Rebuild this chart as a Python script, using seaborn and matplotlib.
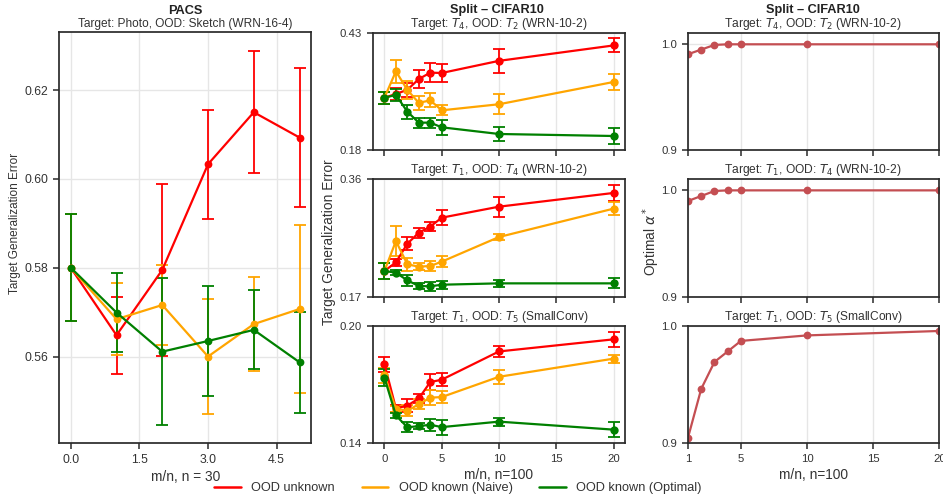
import numpy as np
import pandas as pd
import matplotlib
matplotlib.use("Agg")
import matplotlib.pyplot as plt
import seaborn as sns

# ---------------- data ----------------
methods = ["OOD unknown", "OOD known (Naive)", "OOD known (Optimal)"]
method_colors = ["red", "orange", "green"]

pacs_x = [0, 1, 2, 3, 4, 5]
pacs_unknown = [0.580, 0.5648, 0.5795, 0.6033, 0.6150, 0.6093]
pacs_unknown_err = [0.012, 0.0087, 0.0193, 0.0123, 0.0137, 0.0156]
pacs_naive = [0.580, 0.5684, 0.5716, 0.5600, 0.5673, 0.5707]
pacs_naive_err = [0.012, 0.0081, 0.0091, 0.0130, 0.0106, 0.0189]
pacs_opt = [0.580, 0.5699, 0.5611, 0.5635, 0.5660, 0.5587]
pacs_opt_err = [0.012, 0.0089, 0.0165, 0.0123, 0.0089, 0.0114]

cifar_x = [0, 1, 2, 3, 4, 5, 10, 20]
# Target T4, OOD T2 (WRN-10-2)
a_unknown = [0.292, 0.300, 0.309, 0.332, 0.3457, 0.345, 0.371, 0.404]
a_unknown_err = [0.013, 0.012, 0.015, 0.019, 0.020, 0.019, 0.026, 0.015]
a_naive = [0.292, 0.3486, 0.3086, 0.281, 0.2864, 0.265, 0.278, 0.3257]
a_naive_err = [0.013, 0.024, 0.020, 0.015, 0.015, 0.011, 0.021, 0.017]
a_opt = [0.292, 0.298, 0.262, 0.2386, 0.2386, 0.2286, 0.2143, 0.210]
a_opt_err = [0.013, 0.013, 0.015, 0.011, 0.011, 0.016, 0.016, 0.018]
# Target T1, OOD T4 (WRN-10-2)
b_unknown = [0.2116, 0.2256, 0.2558, 0.2736, 0.2834, 0.2979, 0.3157, 0.3379]
b_unknown_err = [0.0135, 0.006, 0.011, 0.008, 0.0076, 0.012, 0.016, 0.013]
b_naive = [0.2116, 0.2601, 0.2224, 0.2186, 0.2197, 0.2267, 0.2666, 0.3125]
b_naive_err = [0.0135, 0.024, 0.011, 0.0054, 0.008, 0.009, 0.0054, 0.011]
b_opt = [0.2116, 0.2089, 0.1964, 0.1873, 0.1868, 0.1894, 0.1916, 0.1916]
b_opt_err = [0.0135, 0.004, 0.0086, 0.0043, 0.007, 0.0065, 0.0054, 0.008]
# Target T1, OOD T5 (SmallConv)
c_unknown = [0.1803, 0.1576, 0.159, 0.1627, 0.1711, 0.1723, 0.1868, 0.193]
c_unknown_err = [0.0038, 0.0017, 0.0032, 0.0022, 0.004, 0.0034, 0.0026, 0.004]
c_naive = [0.1745, 0.1574, 0.1564, 0.1597, 0.1631, 0.1634, 0.1738, 0.1831]
c_naive_err = [0.004, 0.0015, 0.0028, 0.0026, 0.004, 0.003, 0.0036, 0.002]
c_opt = [0.1733, 0.154, 0.1479, 0.1485, 0.1492, 0.148, 0.1508, 0.1467]
c_opt_err = [0.0043, 0.0014, 0.0026, 0.0017, 0.003, 0.0038, 0.002, 0.004]

alpha_x = [1, 2, 3, 4, 5, 10, 20]
alpha_a = [0.9906, 0.995, 0.9994, 1.0, 1.0, 1.0, 1.0]
alpha_b = [0.990, 0.9947, 0.9994, 1.0, 1.0, 1.0, 1.0]
alpha_c = [0.9043, 0.946, 0.969, 0.978, 0.987, 0.9917, 0.9955]

cifar_titles = [r"Target: $T_4$, OOD: $T_2$ (WRN-10-2)",
                r"Target: $T_1$, OOD: $T_4$ (WRN-10-2)",
                r"Target: $T_1$, OOD: $T_5$ (SmallConv)"]
cifar_ylims = [(0.18, 0.43), (0.17, 0.36), (0.14, 0.20)]
alpha_ylims = [(0.9, 1.0104), (0.9, 1.0104), (0.9, 1.0)]

# ---------------- style ----------------
sns.set_theme(style="ticks")
plt.rcParams["font.family"] = ["Liberation Sans", "DejaVu Sans"]
plt.rcParams.update({
    "axes.edgecolor": "#2a2a2a",
    "axes.linewidth": 1.25,
    "axes.grid": True,
    "grid.color": "#e6e6e6",
    "grid.linewidth": 1.0,
    "xtick.major.size": 4.5,
    "ytick.major.size": 4.5,
    "xtick.major.width": 1.1,
    "ytick.major.width": 1.1,
    "xtick.color": "#2a2a2a",
    "ytick.color": "#2a2a2a",
    "xtick.labelcolor": "#333333",
    "ytick.labelcolor": "#333333",
    "xtick.labelsize": 8.2,
    "ytick.labelsize": 8.2,
    "axes.labelsize": 9.9,
    "axes.labelcolor": "#333333",
    "mathtext.fontset": "dejavusans",
})

W, H = 943, 498
fig = plt.figure(figsize=(W / 100, H / 100), dpi=100)
TXT = "#333333"


def rect(l, t, r, b):
    return [l / W, 1 - b / H, (r - l) / W, (b - t) / H]


def ftext(x, y, s, **kw):
    fig.text(x / W, 1 - y / H, s, **kw)


def series_frame(x, ys, errs):
    rows = []
    for m, y, e in zip(methods, ys, errs):
        for xi, yi, ei in zip(x, y, e):
            rows.append({"x": xi, "y": yi, "err": ei, "method": m})
    return pd.DataFrame(rows)


def draw_methods(ax, df, ms):
    for m, c in zip(methods, method_colors):
        d = df[df["method"] == m]
        ax.errorbar(d["x"], d["y"], yerr=d["err"], fmt="none", ecolor=c,
                    elinewidth=1.3, capsize=4.5, capthick=1.3, zorder=2)
        sns.lineplot(data=d, x="x", y="y", color=c, marker="o", markersize=ms,
                     markeredgewidth=0, linewidth=1.6, errorbar=None, ax=ax,
                     legend=False, zorder=3)


# ---------------- PACS ----------------
ax_p = fig.add_axes(rect(59.3, 32.3, 311, 442.7))
df_p = series_frame(pacs_x, [pacs_unknown, pacs_naive, pacs_opt],
                    [pacs_unknown_err, pacs_naive_err, pacs_opt_err])
draw_methods(ax_p, df_p, 5.6)
ax_p.set_xlim(-0.25, 5.25)
ax_p.set_ylim(0.5406, 0.633)
ax_p.set_xticks([0.0, 1.5, 3.0, 4.5])
ax_p.set_xticklabels(["0.0", "1.5", "3.0", "4.5"])
ax_p.set_yticks([0.56, 0.58, 0.60, 0.62])
ax_p.set_yticklabels(["0.56", "0.58", "0.60", "0.62"])
ax_p.tick_params(labelsize=8.8)
ax_p.set_xlabel("m/n, n = 30", labelpad=3)
ax_p.set_ylabel("")
ftext(15.5, 223, "Target Generalization Error", rotation=90, ha="center",
      va="center", fontsize=8.5, color=TXT)
ftext(185, 14, "PACS", ha="center", va="baseline", fontsize=9.2,
      fontweight="bold", color="#222222")
ftext(185, 27, "Target: Photo, OOD: Sketch (WRN-16-4)", ha="center",
      va="baseline", fontsize=8.6, color=TXT)

# ---------------- CIFAR error panels ----------------
rows = [(33.3, 150), (179.3, 296.7), (325.7, 442.7)]
sub_baselines = [27, 173, 320]
cifar_sets = [
    ([a_unknown, a_naive, a_opt], [a_unknown_err, a_naive_err, a_opt_err]),
    ([b_unknown, b_naive, b_opt], [b_unknown_err, b_naive_err, b_opt_err]),
    ([c_unknown, c_naive, c_opt], [c_unknown_err, c_naive_err, c_opt_err]),
]
for i, ((t, b), (ys, es)) in enumerate(zip(rows, cifar_sets)):
    ax = fig.add_axes(rect(373, t, 625, b))
    draw_methods(ax, series_frame(cifar_x, ys, es), 6.0)
    ax.set_xlim(-1.0, 21.0)
    ax.set_xticks([0, 5, 10, 15, 20])
    lo, hi = cifar_ylims[i]
    ax.set_ylim(lo, hi)
    ax.set_yticks([lo, hi])
    ax.set_yticklabels([f"{lo:.2f}", f"{hi:.2f}"])
    ax.set_xlabel("")
    ax.set_ylabel("")
    if i < 2:
        ax.set_xticklabels([])
    else:
        ax.set_xticklabels(["0", "5", "10", "15", "20"])
        ax.set_xlabel("m/n, n=100", labelpad=3)
    ftext(499, sub_baselines[i], cifar_titles[i], ha="center", va="baseline",
          fontsize=8.65, color=TXT)
ftext(329, 242, "Target Generalization Error", rotation=90, ha="center",
      va="center", fontsize=9.9, color=TXT)
ftext(497, 12.5, "Split \u2013 CIFAR10", ha="center", va="baseline",
      fontsize=9.2, fontweight="bold", color="#222222")

# ---------------- optimal alpha panels ----------------
alpha_sets = [alpha_a, alpha_b, alpha_c]
for i, ((t, b), vals) in enumerate(zip(rows, alpha_sets)):
    ax = fig.add_axes(rect(688, t, 939.3, b))
    df_a = pd.DataFrame({"x": alpha_x, "alpha": vals})
    sns.lineplot(data=df_a, x="x", y="alpha", color="#C44E52", marker="o",
                 markersize=5.6, markeredgewidth=0, linewidth=1.6,
                 errorbar=None, ax=ax)
    ax.set_xlim(1, 20)
    ax.set_xticks([1, 5, 10, 15, 20])
    ax.set_ylim(*alpha_ylims[i])
    ax.set_yticks([0.9, 1.0])
    ax.set_yticklabels(["0.9", "1.0"])
    ax.set_xlabel("")
    ax.set_ylabel("")
    if i < 2:
        ax.set_xticklabels([])
    else:
        ax.set_xticklabels(["1", "5", "10", "15", "20"])
        ax.set_xlabel("m/n, n=100", labelpad=3)
    ftext(813, sub_baselines[i], cifar_titles[i], ha="center", va="baseline",
          fontsize=8.65, color=TXT)
ftext(651, 241, r"Optimal $\alpha^*$", rotation=90, ha="center", va="center",
      fontsize=9.9, color=TXT)
ftext(813, 12.5, "Split \u2013 CIFAR10", ha="center", va="baseline",
      fontsize=9.2, fontweight="bold", color="#222222")

# ---------------- legend ----------------
handles = [plt.Line2D([], [], color=c, linewidth=1.8) for c in method_colors]
fig.legend(handles, methods, loc="center", bbox_to_anchor=(458 / W, 1 - 488 / H),
           ncol=3, frameon=False, fontsize=9.2, columnspacing=2.1,
           handlelength=2.1, handletextpad=0.8, labelcolor=TXT)

fig.savefig("out.png", dpi=100)
